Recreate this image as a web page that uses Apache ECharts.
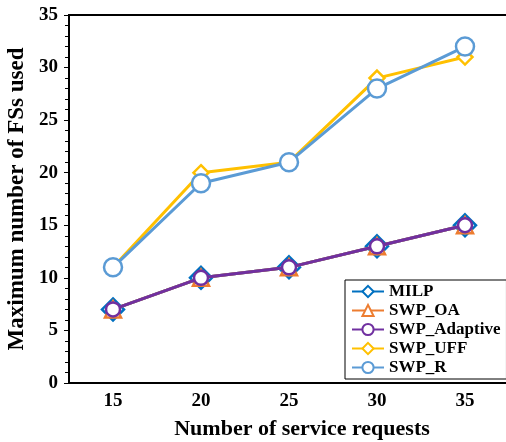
<!DOCTYPE html>
<html>
<head>
<meta charset="utf-8">
<script src="https://cdn.jsdelivr.net/npm/echarts@6/dist/echarts.min.js"></script>
<style>
  html, body { margin: 0; padding: 0; background: #fff; }
  #chart { width: 506px; height: 442px; }
</style>
</head>
<body>
<div id="chart"></div>
<script>
// data
const requests = ['15', '20', '25', '30', '35']
const milp = [7, 10, 11, 13, 15]
const swpOa = [7, 10, 11, 13, 15]
const swpAdaptive = [7, 10, 11, 13, 15]
const swpUff = [11, 20, 21, 29, 31]
const swpR = [11, 19, 21, 28, 32]

const font = 'Liberation Serif'

function line (name, data, color, symbol, size, z) {
  return {
    name: name,
    type: 'line',
    data: data,
    symbol: symbol,
    symbolSize: size,
    z: z,
    lineStyle: { color: color, width: 3 },
    itemStyle: { color: '#fff', borderColor: color, borderWidth: 2.5 }
  }
}

const chart = echarts.init(document.getElementById('chart'))
chart.setOption({
  animation: false,
  grid: {
    left: 69, right: -3, top: 15, bottom: 59,
    outerBoundsMode: 'none',
    containLabel: false,
    show: true, borderColor: '#000', borderWidth: 2
  },
  legend: {
    orient: 'vertical',
    left: 345, top: 280,
    padding: [3, 6, 3, 6],
    itemWidth: 32, itemHeight: 14, itemGap: 2,
    borderColor: '#000', borderWidth: 1,
    backgroundColor: '#fff',
    textStyle: { fontFamily: font, fontWeight: 'bold', fontSize: 17, color: '#000' },
    data: ['MILP', 'SWP_OA', 'SWP_Adaptive', 'SWP_UFF', 'SWP_R']
  },
  xAxis: {
    type: 'category',
    data: requests,
    boundaryGap: true,
    name: 'Number of service requests',
    nameLocation: 'middle',
    nameGap: 35,
    nameTextStyle: { fontFamily: font, fontWeight: 'bold', fontSize: 22, color: '#000', padding: [0, 0, 0, 26] },
    axisLine: { lineStyle: { color: '#000', width: 2 } },
    axisTick: { alignWithLabel: true, length: 3, lineStyle: { color: '#000' } },
    axisLabel: { fontFamily: font, fontWeight: 'bold', fontSize: 19, color: '#000', margin: 9 }
  },
  yAxis: {
    type: 'value',
    min: 0, max: 35, interval: 5,
    name: 'Maximum number of FSs used',
    nameLocation: 'middle',
    nameGap: 40,
    nameTextStyle: { fontFamily: font, fontWeight: 'bold', fontSize: 23, color: '#000' },
    axisLine: { show: true, lineStyle: { color: '#000', width: 2 } },
    axisTick: { show: true, length: 5, lineStyle: { color: '#000' } },
    minorTick: { show: true, splitNumber: 5, length: 4, lineStyle: { color: '#000' } },
    splitLine: { show: false },
    axisLabel: { fontFamily: font, fontWeight: 'bold', fontSize: 19, color: '#000', margin: 11 }
  },
  series: [
    line('MILP', milp, '#0070C0', 'diamond', 22, 2),
    line('SWP_OA', swpOa, '#ED7D31', 'triangle', 16, 3),
    line('SWP_Adaptive', swpAdaptive, '#7030A0', 'circle', 14, 4),
    line('SWP_UFF', swpUff, '#FFC000', 'diamond', 15, 2),
    line('SWP_R', swpR, '#5B9BD5', 'circle', 18, 3)
  ]
})
</script>
</body>
</html>
